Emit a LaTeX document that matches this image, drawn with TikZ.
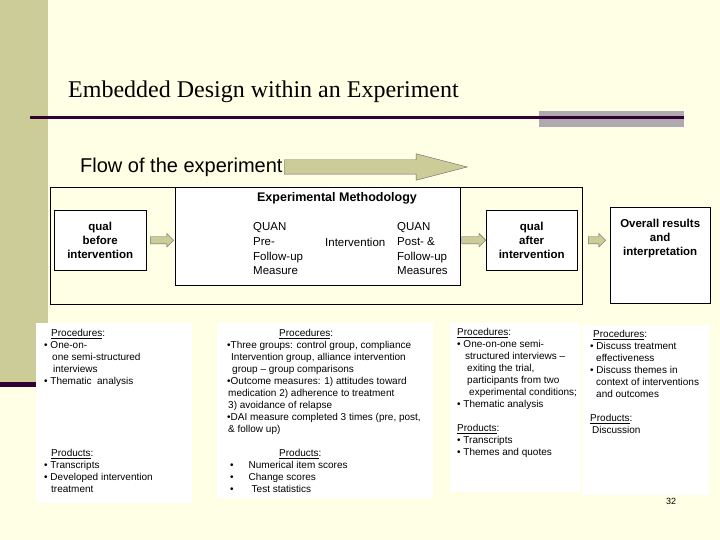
\documentclass[tikz,border=0pt]{standalone}
\usepackage{fontspec}
\setmainfont{Liberation Serif}
\setsansfont{Liberation Sans}
\usepackage{xcolor}
\usepackage{tikz}
\usetikzlibrary{shapes.arrows,positioning,calc}
\definecolor{slidebg}{RGB}{255,255,229}
\definecolor{khaki}{RGB}{204,204,153}
\definecolor{plum}{RGB}{51,0,51}
\definecolor{bandgrey}{RGB}{176,170,176}

\begin{document}
\begin{tikzpicture}[x=1pt,y=-1pt,font=\sffamily]
  \tikzset{phase/.style={draw,fill=white,align=center,inner sep=0pt,anchor=north west,font=\sffamily\bfseries\fontsize{11.5}{14}\selectfont},
    flowarrow/.style={single arrow,draw=black!60,fill=khaki,inner xsep=0pt,inner ysep=3.5pt,single arrow head extend=3pt,minimum height=#1},
    panel/.style={fill=white,inner sep=0pt,anchor=north west},
    notes/.style={align=left,inner sep=0pt,font=\sffamily\fontsize{10}{12}\selectfont}}
  \fill[slidebg] (0,0) rectangle (720,540);
  \useasboundingbox (0,0) rectangle (720,540);
  % side bar and title rule
  \fill[khaki] (0,0) rectangle (48,382);
  \fill[plum] (0,382) rectangle (36,387);
  \fill[bandgrey] (539,111) rectangle (684,127);
  \fill[plum] (30,116) rectangle (684,119.5);
  \node[anchor=base west,inner sep=0pt,font=\rmfamily\fontsize{24}{28}\selectfont] (title) at (68,98) {Embedded Design within an Experiment};
  \node[anchor=base west,inner sep=0pt,font=\sffamily\fontsize{20}{24}\selectfont] (flow) at (80,173) {Flow of the experiment};
  \node[flowarrow=183pt,inner ysep=7pt,single arrow head extend=6pt,single arrow tip angle=29,anchor=west] (flowarr) at (284,167) {};
  % experiment stages
  \node[draw,fill=slidebg,inner sep=0pt,anchor=north west,minimum width=532pt,minimum height=117pt] (expframe) at (50,187) {};
  \node[draw,fill=white,inner sep=0pt,anchor=north west,minimum width=285pt,minimum height=98pt] (method) at (175,187) {};
  \node[font=\sffamily\bfseries\fontsize{12.5}{15}\selectfont] (methodtitle) at (337,198) {Experimental Methodology};
  \node[align=left,inner sep=0pt,anchor=north west,font=\sffamily\fontsize{11.5}{14.7}\selectfont] (pre) at (253,222.5) {QUAN\\Pre-\\Follow-up\\Measure};
  \node[inner sep=0pt,anchor=base west,font=\sffamily\fontsize{11.5}{14.7}\selectfont] (treat) at (325,246) {Intervention};
  \node[align=left,inner sep=0pt,anchor=north west,font=\sffamily\fontsize{11.5}{14.7}\selectfont] (post) at (397,222.5) {QUAN\\Post- \&\\Follow-up\\Measures};
  \node[phase,minimum width=92pt,minimum height=60pt] (before) at (54,210) {qual\\before\\intervention};
  \node[phase,minimum width=91pt,minimum height=60pt] (after) at (486,210) {qual\\after\\intervention};
  \node[phase,minimum width=100pt,minimum height=96pt] (overall) at (610,207) {};
  \node[align=center,inner sep=0pt,font=\sffamily\bfseries\fontsize{11.5}{14}\selectfont,below=12pt of overall.north] (overalltext) {Overall results\\and\\interpretation};
  \node[flowarrow=23pt,right=4pt of before] (arr1) {};
  \node[flowarrow=24pt,left=0pt of after] (arr2) {};
  \node[flowarrow=17pt,right=11pt of after] (arr3) {};
  % procedures and products
  \node[panel,minimum width=156pt,minimum height=180pt] (procA) at (36,323) {};
  \node[panel,minimum width=216pt,minimum height=175pt] (procB) at (217,323) {};
  \node[panel,minimum width=130pt,minimum height=169pt] (procC) at (450,323) {};
  \node[panel,minimum width=128pt,minimum height=170pt] (procD) at (582,325) {};
  \node[notes,below right=6pt and 8pt of procA.north west] (notesA) {\hspace*{7pt}\underline{Procedures}:\\
    \textbullet\ One-on-\\
    \hspace*{8pt}one semi-structured\\
    \hspace*{9pt}interviews\\
    \textbullet\ Thematic\ \ analysis\\[60pt]
    \hspace*{7pt}\underline{Products}:\\
    \textbullet\ Transcripts\\
    \textbullet\ Developed intervention\\
    \hspace*{7pt}treatment};
  \node[notes,below right=6pt and 10pt of procB.north west] (notesB) {\hspace*{52pt}\underline{Procedures}:\\
    \textbullet Three groups: control group, compliance\\
    \hspace*{4pt}Intervention group, alliance intervention\\
    \hspace*{5pt}group – group comparisons\\
    \textbullet Outcome measures: 1) attitudes toward\\
    \hspace*{1pt}medication 2) adherence to treatment\\
    \hspace*{1pt}3) avoidance of relapse\\
    \textbullet DAI measure completed 3 times (pre, post,\\
    \hspace*{1pt}\& follow up)\\[12pt]
    \hspace*{52pt}\underline{Products}:\\
    \hspace*{3pt}\textbullet\hspace*{15pt}Numerical item scores\\
    \hspace*{3pt}\textbullet\hspace*{15pt}Change scores\\
    \hspace*{3pt}\textbullet\hspace*{18pt}Test statistics};
  \node[notes,below right=5.3pt and 7pt of procC.north west] (notesC) {\underline{Procedures}:\\
    \textbullet\ One-on-one semi-\\
    \hspace*{8pt}structured interviews –\\
    \hspace*{10pt}exiting the trial,\\
    \hspace*{10pt}participants from two\\
    \hspace*{12pt}experimental conditions;\\
    \textbullet\ Thematic analysis\\[12pt]
    \underline{Products}:\\
    \textbullet\ Transcripts\\
    \textbullet\ Themes and quotes};
  \node[notes,below right=5.3pt and 8pt of procD.north west] (notesD) {\hspace*{3pt}\underline{Procedures}:\\
    \textbullet\ Discuss treatment\\
    \hspace*{6pt}effectiveness\\
    \textbullet\ Discuss themes in\\
    \hspace*{6pt}context of interventions\\
    \hspace*{6pt}and outcomes\\[12pt]
    \underline{Products}:\\
    \hspace*{2pt}Discussion};
  \node[font=\sffamily\fontsize{9}{11}\selectfont] (pagenum) at (671,501) {32};
\end{tikzpicture}
\end{document}
